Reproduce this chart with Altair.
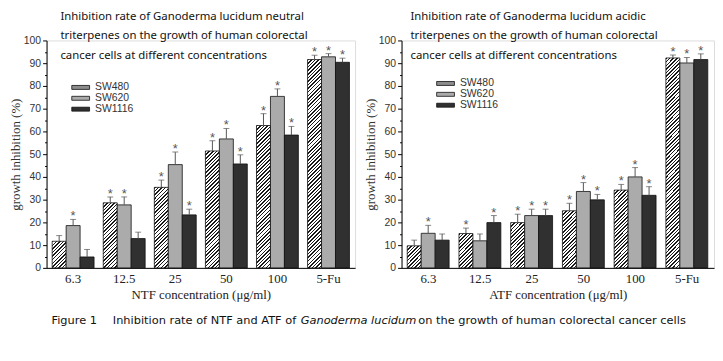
import altair as alt
import pandas as pd

conc = ["6.3", "12.5", "25", "50", "100", "5-Fu"]
cells = ["SW480", "SW620", "SW1116"]

# NTF (neutral triterpenes) - mean inhibition (%)
ntf_sw480 = [11.7, 28.6, 35.4, 51.4, 62.6, 91.6]
ntf_sw620 = [18.6, 27.7, 45.4, 56.7, 75.4, 92.8]
ntf_sw1116 = [4.8, 12.9, 23.3, 45.7, 58.4, 90.4]
# NTF error (upper SD)
ntf_sw480_err = [2.5, 2.6, 3.2, 4.5, 5.2, 1.9]
ntf_sw620_err = [2.7, 3.5, 5.5, 4.6, 3.3, 1.4]
ntf_sw1116_err = [3.3, 2.8, 2.5, 4.0, 3.8, 1.8]
# significance asterisk (1 = shown)
ntf_sw480_sig = [0, 1, 1, 1, 1, 1]
ntf_sw620_sig = [1, 1, 1, 1, 1, 1]
ntf_sw1116_sig = [0, 0, 1, 1, 1, 1]

# ATF (acidic triterpenes)
atf_sw480 = [9.7, 15.1, 19.9, 25.1, 34.2, 92.3]
atf_sw620 = [15.2, 11.9, 23.0, 33.6, 40.0, 90.1]
atf_sw1116 = [12.2, 19.9, 23.0, 29.9, 31.9, 91.6]
atf_sw480_err = [2.5, 2.4, 3.7, 3.3, 2.5, 1.3]
atf_sw620_err = [3.5, 3.0, 2.8, 3.9, 4.1, 2.4]
atf_sw1116_err = [2.7, 3.1, 2.8, 2.4, 3.8, 2.5]
atf_sw480_sig = [0, 1, 1, 1, 1, 1]
atf_sw620_sig = [1, 0, 1, 1, 1, 1]
atf_sw1116_sig = [0, 1, 1, 1, 1, 1]

y_major = list(range(0, 101, 10))
y_minor = list(range(5, 100, 10))

ntf_title = ["Inhibition rate of Ganoderma lucidum neutral",
             "triterpenes on the growth of human colorectal",
             "cancer cells at different concentrations"]
atf_title = ["Inhibition rate of Ganoderma lucidum acidic",
             "triterpenes on the growth of human colorectal",
             "cancer cells at different concentrations"]

cap_texts = ["Figure 1", "Inhibition rate of NTF and ATF of", "Ganoderma lucidum",
             "on the growth of human colorectal cancer cells"]
cap_italic = [0, 0, 1, 0]
cap_px = [5, 67, 257, 376]

C480 = "#8c8c8c"
C620 = "#ababab"
C1116 = "#303030"

SERIF = "Liberation Serif"
SANS = "Liberation Sans"
H = 230
PAD_IN, PAD_OUT = 0.18, 0.11

# diagonal hatch (////) built as a linear gradient with sharp stops
L_HATCH, PERIOD, INK = 320.0, 3.6, 0.42
_n = int(L_HATCH / PERIOD)
_st = []
for i in range(_n):
    a, b, c = i / _n, (i + INK) / _n, (i + 1) / _n
    _st += [f"{{offset:{a:.5f},color:'#1a1a1a'}}", f"{{offset:{b:.5f},color:'#1a1a1a'}}",
            f"{{offset:{b:.5f},color:'#ffffff'}}", f"{{offset:{c:.5f},color:'#ffffff'}}"]
STOPS = "[" + ",".join(_st) + "]"


def hatch(w, h):
    den = f"({w}*{w}+{h}*{h})"
    return (f"{{gradient:'linear',x1:0,y1:0,x2:{L_HATCH}*{w}/{den},"
            f"y2:{L_HATCH}*{h}/{den},stops:{STOPS}}}")


def table(means, errs, sigs):
    rows = []
    for i, c in enumerate(conc):
        for cell, m, e, s in zip(cells, [x[i] for x in means], [x[i] for x in errs], [x[i] for x in sigs]):
            rows.append({"conc": c, "cell": cell, "mean": m, "upper": round(m + e, 2), "sig": s})
    return pd.DataFrame(rows)


def panel(df, W, xtitle, title_lines, tx, lx, ly, caption=False):
    barw = W / (len(conc) - PAD_IN + 2 * PAD_OUT) * (1 - PAD_IN) / len(cells)
    xenc = alt.X("conc:N", sort=conc, title=xtitle,
                 scale=alt.Scale(paddingInner=PAD_IN, paddingOuter=PAD_OUT),
                 axis=alt.Axis(labelAngle=0, ticks=False, domainColor="#000", domainWidth=1,
                               labelFont=SERIF, labelFontSize=13, labelColor="#222", labelPadding=5,
                               titleFont=SERIF, titleFontSize=13, titleFontWeight="normal",
                               titleColor="#222", titlePadding=3))
    xoff = alt.XOffset("cell:N", sort=cells, scale=alt.Scale(paddingInner=0, paddingOuter=0))
    yscale = alt.Scale(domain=[0, 100], nice=False)
    base = alt.Chart(df).encode(x=xenc, xOffset=xoff)

    fill = {
        "condition": {"test": "datum.cell === 'SW480'",
                      "value": {"expr": hatch(round(barw, 2), f"(datum.mean*{H / 100})")}},
        "field": "cell", "type": "nominal", "sort": cells,
        "scale": {"domain": cells, "range": [C480, C620, C1116]},
        "legend": {"title": None, "orient": "none", "legendX": lx, "legendY": ly,
                   "symbolType": "M-1.8,-0.4H1.8V0.4H-1.8Z", "symbolSize": 100,
                   "symbolStrokeColor": "#111", "symbolStrokeWidth": 0.8, "symbolOpacity": 1,
                   "labelFont": SANS, "labelFontSize": 10.5, "labelColor": "#333",
                   "labelOffset": 9, "rowPadding": 0},
    }

    bars = base.mark_bar(stroke="#111", strokeWidth=0.8, fillOpacity=1).encode(
        y=alt.Y("mean:Q", scale=yscale, title="growth inhibition (%)",
                axis=alt.Axis(values=y_major, orient="left", labelOverlap=False,
                              grid=False, domainColor="#000", tickColor="#000", tickSize=4,
                              labelFont=SANS, labelFontSize=10.5, labelColor="#333", labelPadding=2,
                              titleFont=SERIF, titleFontSize=13, titleFontWeight="normal",
                              titleColor="#333", titlePadding=1)),
        fill=fill,
    )
    rules = base.mark_rule(color="#555", strokeWidth=1).encode(
        y=alt.Y("mean:Q", scale=yscale,
                axis=alt.Axis(values=y_minor, orient="left", labels=False, domain=False,
                              grid=False, tickColor="#000", tickSize=2, title=None)),
        y2="upper:Q")
    caps = base.mark_tick(color="#555", orient="horizontal", size=6, thickness=1).encode(
        y=alt.Y("upper:Q", axis=None))
    stars = base.transform_filter("datum.sig == 1").mark_text(
        text="*", font=SANS, fontSize=13, color="#555", baseline="alphabetic", dy=1
    ).encode(y=alt.Y("upper:Q", axis=None))

    tdf = pd.DataFrame({"t": [title_lines]})
    ttl = alt.Chart(tdf).mark_text(
        align="left", baseline="middle", font="Noto Sans", fontSize=11.5, lineHeight=20, color="#111"
    ).encode(text="t", x=alt.value(tx), y=alt.value(-24))

    layers = [bars, rules, caps, stars, ttl]
    if caption:
        cdf = pd.DataFrame({"t": cap_texts, "it": cap_italic, "px": cap_px})
        for flag, style in [(0, "normal"), (1, "italic")]:
            cap = alt.Chart(cdf).transform_filter(f"datum.it == {flag}").mark_text(
                align="left", baseline="middle", font="DejaVu Sans", fontSize=11.5,
                fontStyle=style, color="#111"
            ).encode(text="t:N", x=alt.X("px:Q", scale=None), y=alt.value(284))
            layers.append(cap)
    return alt.layer(*layers).resolve_axis(y="independent").properties(width=W, height=H)


left = panel(table([ntf_sw480, ntf_sw620, ntf_sw1116],
                   [ntf_sw480_err, ntf_sw620_err, ntf_sw1116_err],
                   [ntf_sw480_sig, ntf_sw620_sig, ntf_sw1116_sig]),
             312, "NTF concentration (\u03bcg/ml)", ntf_title, 14, 29, 42, caption=True)
right = panel(table([atf_sw480, atf_sw620, atf_sw1116],
                    [atf_sw480_err, atf_sw620_err, atf_sw1116_err],
                    [atf_sw480_sig, atf_sw620_sig, atf_sw1116_sig]),
              316, "ATF concentration (\u03bcg/ml)", atf_title, 9, 39, 38)

chart = alt.hconcat(left, right, spacing=47, bounds="flush").resolve_legend(
    fill="independent").resolve_scale(fill="independent").properties(
    padding={"left": 0, "top": 0, "right": 0, "bottom": 0}
).configure_view(stroke=None).configure(background="white")

chart.save("out.html", embed_options={"renderer": "svg", "actions": False})
